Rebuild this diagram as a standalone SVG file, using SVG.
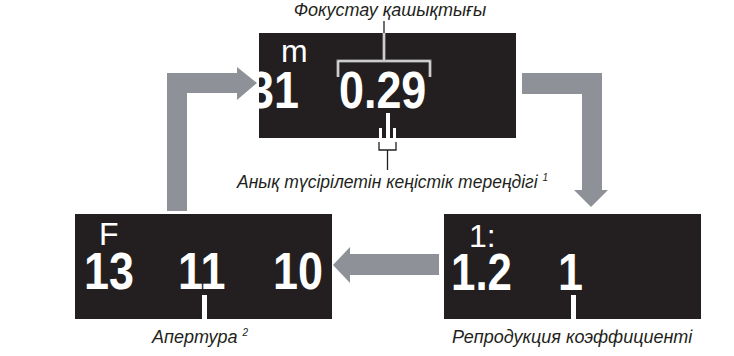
<svg xmlns="http://www.w3.org/2000/svg" width="734" height="356" viewBox="0 0 734 356">
<style>
.box{fill:#231f20}
.arr{fill:#8e9197}
.big{font-family:"Liberation Sans",Arial,sans-serif;font-weight:bold;font-size:51px;fill:#fff}
.small{font-family:"Liberation Sans",Arial,sans-serif;font-size:32px;fill:#fff}
.lbl{font-family:"Liberation Sans",Arial,sans-serif;font-style:italic;font-size:18px;fill:#231f20}
.sup{font-size:10px}
.tick{fill:#fff}
.ln{stroke:#231f20;stroke-width:1.3;fill:none}
.br{fill:none;stroke:#9a9a9a;stroke-width:3}
.brw{fill:none;stroke:#fff;stroke-width:1}
</style>
<defs>
<clipPath id="clipTop"><rect x="259" y="33" width="257" height="105"/></clipPath>
</defs>
<g id="connectors">
<path class="arr" d="M167,211 V73 H237 V67 L257,83 L237,100 V93 H187 V211 Z"/>
<path class="arr" d="M522,73 H602 V190 H608 L591,207 L574,190 H582 V94 H522 Z"/>
<path class="arr" d="M439,254 H350 V247 L333,265 L350,283 V275 H439 Z"/>
</g>
<g id="node-focus">
<rect class="box" x="259" y="33" width="257" height="105"/>
<g clip-path="url(#clipTop)">
<text class="small" x="281" y="62">m</text>
<text class="big" transform="translate(249,108) scale(0.88,1)">31</text>
<text class="big" transform="translate(339,108) scale(0.88,1)">0.29</text>
</g>
<rect class="tick" x="379" y="128" width="3" height="10"/>
<rect class="tick" x="386" y="113" width="4" height="25"/>
<rect class="tick" x="393" y="128" width="3" height="10"/>
<path class="br" d="M338,77 V61 H430 V77"/>
<path class="brw" d="M338,77 V61 H430 V77"/>
<path class="br" d="M384,33 V61"/>
<path class="brw" d="M384,33 V61"/>
</g>
<g id="label-focus">
<path class="ln" d="M384,21 V33"/>
<text class="lbl" x="390" y="16" text-anchor="middle">Фокустау қашықтығы</text>
</g>
<g id="label-dof">
<path class="ln" d="M379,142 V150 H396 V142 M387.5,150 V170"/>
<text class="lbl" x="237" y="188" style="font-size:17.5px">Анық түсірілетін кеңістік тереңдігі <tspan class="sup" dy="-7">1</tspan></text>
</g>
<g id="node-aperture">
<rect class="box" x="75" y="214" width="257" height="105"/>
<text class="small" x="99" y="245">F</text>
<text class="big" transform="translate(84,289) scale(0.88,1)">13</text>
<text class="big" transform="translate(178,289) scale(0.88,1)">11</text>
<text class="big" transform="translate(273,289) scale(0.88,1)">10</text>
<rect class="tick" x="202" y="295" width="5" height="24"/>
<text class="lbl" x="152" y="343">Апертура <tspan class="sup" dy="-7">2</tspan></text>
</g>
<g id="node-ratio">
<rect class="box" x="444" y="214" width="257" height="105"/>
<text class="small" x="469" y="247">1:</text>
<text class="big" transform="translate(451,290) scale(0.86,1)">1.2</text>
<text class="big" transform="translate(558,290) scale(0.88,1)">1</text>
<rect class="tick" x="571" y="295" width="5" height="24"/>
<text class="lbl" x="452" y="343">Репродукция коэффициенті</text>
</g>
</svg>
